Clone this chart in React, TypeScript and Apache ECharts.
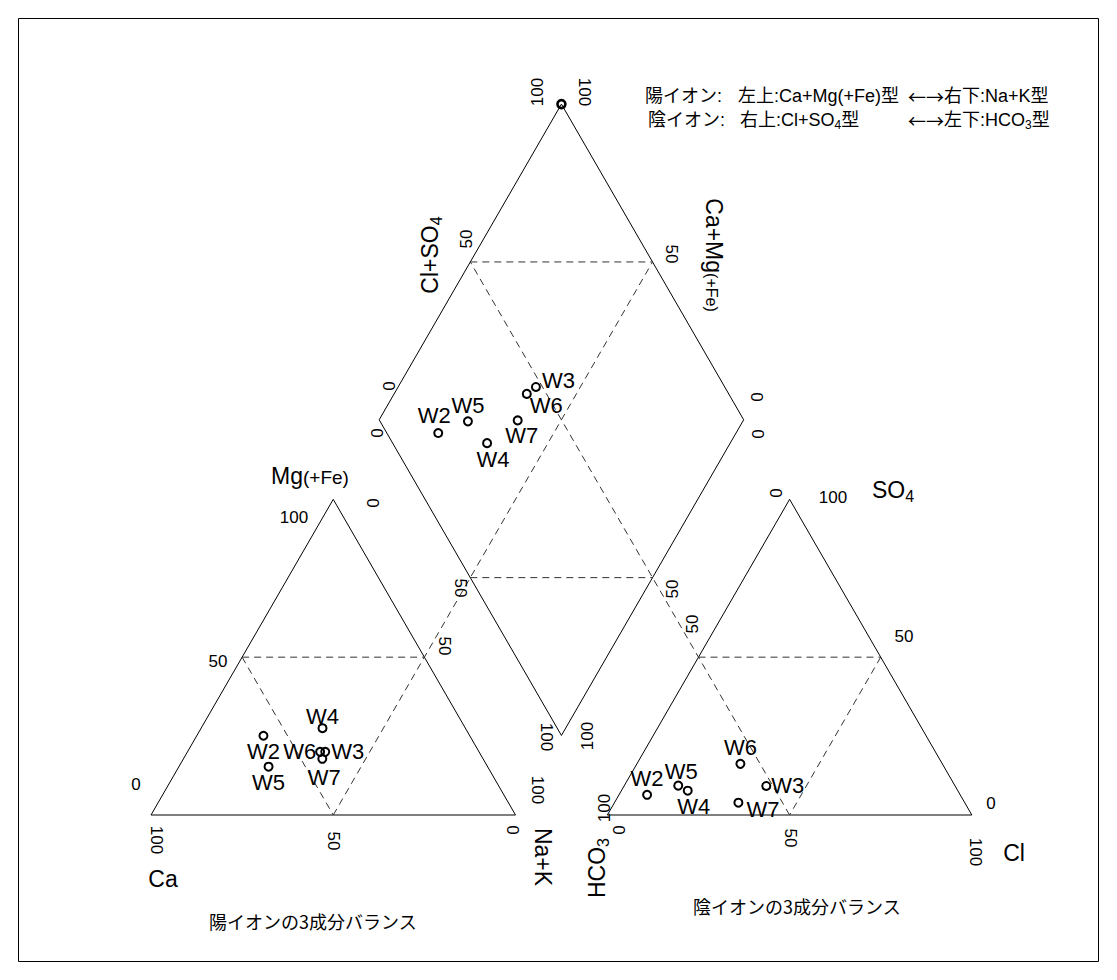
import React, { useEffect, useRef } from "react";
import * as echarts from "echarts";

// ---------- data ----------
const samples = ["W2", "W3", "W4", "W5", "W6", "W7"];
// cations (% meq)
const cationCa = [56.6, 42.2, 39.2, 60.1, 43.6, 44.1];
const cationMg = [25.1, 20.0, 27.5, 15.3, 20.0, 17.8];
const cationNaK = [18.3, 37.8, 33.3, 24.6, 36.4, 38.1];
// anions (% meq)
const anionHCO3 = [85.9, 51.8, 74.1, 75.9, 55.4, 62.1];
const anionSO4 = [6.4, 9.2, 7.7, 9.3, 16.2, 3.9];
const anionCl = [7.7, 39.0, 18.2, 14.8, 28.4, 34.0];
// marker drawn at the diamond apex (Na+K = 0, Cl+SO4 = 100)
const apexNaK = 0;
const apexClSO4 = 100;

// ---------- label placement (style, not data) ----------
type LP = { pos: string; d?: number; off?: number[] };
const cationLabel: Record<string, LP> = {
  W2: { pos: "bottom" }, W3: { pos: "right", d: 1 }, W4: { pos: "top", off: [0, 4] },
  W5: { pos: "bottom" }, W6: { pos: "left", d: -1 }, W7: { pos: "bottom", off: [2, 3] },
};
const anionLabel: Record<string, LP> = {
  W2: { pos: "top" }, W3: { pos: "right", d: 0 }, W4: { pos: "bottom", off: [6, 0] },
  W5: { pos: "top", off: [3, 2] }, W6: { pos: "top" }, W7: { pos: "right", d: 3, off: [0, 7] },
};
const diamondLabel: Record<string, LP> = {
  W2: { pos: "top", off: [-4, -2] }, W3: { pos: "right", d: 1, off: [0, -6] }, W4: { pos: "bottom", off: [6, 0] },
  W5: { pos: "top" }, W6: { pos: "right", d: -2, off: [0, 12] }, W7: { pos: "bottom", off: [4, -1] },
};

// ---------- geometry ----------
const W = 1117;
const HPX = 980;
const S = 3.645; // px per unit (triangle side = 100 units)
const ORX = 151;
const ORY = 815;
const GAP = 25.2;
const H3 = Math.sqrt(3) / 2;
const xMin = -ORX / S;
const xMax = xMin + W / S;
const yMin = -(HPX - ORY) / S;
const yMax = yMin + HPX / S;

const cat = (nak: number, mg: number) => [nak + mg / 2, mg * H3];
const ani = (cl: number, so4: number) => [100 + GAP + cl + so4 / 2, so4 * H3];
const B = [100 + GAP / 2, GAP * H3];
const dia = (nak: number, cs: number) => [
  B[0] - 50 * (1 - nak / 100) + 50 * (cs / 100),
  B[1] + 100 * H3 * (1 - nak / 100) + 100 * H3 * (cs / 100),
];

const FONT = "'Liberation Sans', Arial, 'Noto Sans CJK JP', sans-serif";
const JFONT = "'Liberation Sans', 'Noto Sans CJK JP', sans-serif";
const CFONT = "'Noto Sans CJK JP', 'Liberation Sans', sans-serif";
const NUM = 17;
const TTL = 23;
const LEG = 18;
const CW = -Math.PI / 2;
const CCW = Math.PI / 2;

let _ctx: CanvasRenderingContext2D | null = null;
function measure(t: string, fs: number, family: string) {
  if (!_ctx) _ctx = document.createElement("canvas").getContext("2d");
  if (!_ctx) return t.length * fs * 0.6;
  _ctx.font = `${fs}px ${family}`;
  return _ctx.measureText(t).width;
}

type Piece = { t: string; fs: number; f?: string; dy?: number };
function run(pieces: Piece[], x: number, y: number, rot = 0, align: "center" | "left" = "center") {
  const widths = pieces.map((p) => measure(p.t, p.fs, p.f ?? FONT));
  const total = widths.reduce((a, b) => a + b, 0);
  let cx = align === "center" ? -total / 2 : 0;
  const children = pieces.map((p, i) => {
    const el = {
      type: "text",
      x: cx,
      y: p.dy ?? 0,
      silent: true,
      z: 10,
      style: {
        text: p.t,
        fontSize: p.fs,
        fontFamily: p.f ?? FONT,
        fill: "#000",
        align: "left",
        verticalAlign: "middle",
        textAlign: "left",
        textVerticalAlign: "middle",
      },
    };
    cx += widths[i];
    return el;
  });
  return { type: "group", x, y, rotation: rot, silent: true, z: 10, children };
}
const txt = (t: string, x: number, y: number, rot = 0, fs = NUM, f = FONT) => run([{ t, fs, f }], x, y, rot);

export default function App() {
  const ref = useRef<HTMLDivElement>(null);
  useEffect(() => {
    document.body.style.margin = "0";
    if (!ref.current) return;
    const chart = echarts.init(ref.current, undefined, { renderer: "svg" });

    const solid = { color: "#000", width: 1, type: "solid" };
    const dashed = { color: "#333", width: 1, type: [7, 5] };
    const lineSeries = (pts: number[][], style: any) => ({
      type: "line",
      data: pts,
      symbol: "none",
      silent: true,
      lineStyle: style,
      z: 2,
    });

    const outlines = [
      [cat(0, 0), cat(100, 0), cat(0, 100), cat(0, 0)],
      [ani(0, 0), ani(100, 0), ani(0, 100), ani(0, 0)],
      [dia(100, 0), dia(0, 0), dia(0, 100), dia(100, 100), dia(100, 0)],
    ];
    const dashes = [
      [cat(0, 50), cat(50, 50)],
      [cat(0, 50), cat(50, 0)],
      [cat(50, 0), dia(50, 100)],
      [ani(0, 50), ani(50, 50)],
      [ani(50, 50), ani(50, 0)],
      [ani(50, 0), dia(0, 50)],
      [dia(50, 0), dia(100, 50)],
      [dia(0, 50), dia(50, 100)],
    ];

    const markerStyle = { color: "rgba(255,255,255,0)", borderColor: "#000", borderWidth: 2, opacity: 1 };
    const labelBase = { show: true, formatter: "{b}", fontSize: 22, color: "#000", fontFamily: FONT, distance: 0 };
    const scatter = (data: any[]) => ({
      type: "scatter",
      data,
      symbol: "circle",
      symbolSize: 8,
      itemStyle: markerStyle,
      label: labelBase,
      emphasis: { disabled: true },
      z: 5,
    });
    const lab = (lp: LP) => ({
      position: lp.pos,
      distance: lp.d ?? 0,
      offset: lp.off ?? [0, 0],
    });

    const cationData = samples.map((n, i) => ({
      name: n,
      value: cat(cationNaK[i], cationMg[i]),
      label: lab(cationLabel[n]),
    }));
    const anionData = samples.map((n, i) => ({
      name: n,
      value: ani(anionCl[i], anionSO4[i]),
      label: lab(anionLabel[n]),
    }));
    const diamondData = samples.map((n, i) => ({
      name: n,
      value: dia(cationNaK[i], anionCl[i] + anionSO4[i]),
      label: lab(diamondLabel[n]),
    }));

    const texts = [
      // cation triangle
      run([{ t: "Mg", fs: TTL }, { t: "(+Fe)", fs: 19, dy: 1.3 }], 310, 476),
      txt("100", 294, 517),
      txt("50", 218, 661),
      txt("0", 136, 784),
      txt("100", 156, 840, CW),
      txt("50", 333, 841, CW),
      txt("0", 512, 830, CW),
      txt("Ca", 163, 879, 0, TTL),
      txt("Na+K", 543, 857, CW, TTL),
      txt("0", 372, 503, CW),
      txt("50", 444, 646, CW),
      txt("100", 537, 790, CW),
      txt("陽イオンの3成分バランス", 313, 921, 0, 18, CFONT),
      // diamond
      txt("100", 537, 92, CCW),
      txt("100", 584, 92, CW),
      run([{ t: "Cl+SO", fs: TTL }, { t: "4", fs: 16, dy: 6 }], 430, 255, CCW),
      txt("50", 466, 239, CCW),
      run([{ t: "Ca+Mg", fs: TTL }, { t: "(+Fe)", fs: 16, dy: 2.5 }], 714, 255, CW),
      txt("50", 671, 254, CW),
      txt("0", 389, 386, CCW),
      txt("0", 377, 433, CCW),
      txt("0", 756, 397, CW),
      txt("0", 757, 434, CW),
      txt("50", 460, 588, CW),
      txt("100", 546, 737, CW),
      txt("100", 587, 736, CCW),
      txt("50", 672, 589, CCW),
      // anion triangle
      txt("0", 776, 493, CCW),
      txt("50", 692, 624, CCW),
      txt("100", 604, 808, CCW),
      txt("100", 833, 497),
      run([{ t: "SO", fs: TTL }, { t: "4", fs: 16, dy: 6 }], 893, 490),
      txt("50", 904, 636),
      txt("0", 991, 803),
      txt("0", 618, 830, CW),
      txt("50", 790, 838, CW),
      txt("100", 975, 852, CW),
      txt("Cl", 1014, 853, 0, TTL),
      run([{ t: "HCO", fs: TTL }, { t: "3", fs: 16, dy: 6 }], 597, 868, CCW),
      txt("陰イオンの3成分バランス", 797, 906, 0, 18, CFONT),
      // legend
      run([{ t: "陽イオン:", fs: LEG, f: JFONT }], 645, 96, 0, "left"),
      run([{ t: "左上:Ca+Mg(+Fe)型", fs: LEG, f: JFONT }], 738, 96, 0, "left"),
      run([{ t: "←→", fs: LEG, f: CFONT }, { t: "右下:Na+K型", fs: LEG, f: JFONT }], 908, 96, 0, "left"),
      run([{ t: "陰イオン:", fs: LEG, f: JFONT }], 648, 120, 0, "left"),
      run([{ t: "右上:Cl+SO", fs: LEG, f: JFONT }, { t: "4", fs: 12, f: JFONT, dy: 5 }, { t: "型", fs: LEG, f: JFONT }], 740, 120, 0, "left"),
      run([{ t: "←→", fs: LEG, f: CFONT }, { t: "左下:HCO", fs: LEG, f: JFONT }, { t: "3", fs: 12, f: JFONT, dy: 5 }, { t: "型", fs: LEG, f: JFONT }], 908, 120, 0, "left"),
    ];

    const option: any = {
      animation: false,
      grid: { left: 0, right: 0, top: 0, bottom: 0, containLabel: false },
      xAxis: { type: "value", min: xMin, max: xMax, show: false },
      yAxis: { type: "value", min: yMin, max: yMax, show: false },
      series: [
        ...outlines.map((p) => lineSeries(p, solid)),
        ...dashes.map((p) => lineSeries(p, dashed)),
        scatter(cationData),
        scatter(anionData),
        scatter(diamondData),
        {
          type: "scatter",
          data: [{ name: "", value: dia(apexNaK, apexClSO4) }],
          symbol: "circle",
          symbolSize: 8,
          itemStyle: { color: "rgba(255,255,255,0)", borderColor: "#000", borderWidth: 2.6, opacity: 1 },
          label: { show: false },
          z: 6,
        },
      ],
      graphic: {
        elements: [
          {
            type: "rect",
            shape: { x: 18.5, y: 18.5, width: 1080, height: 943 },
            style: { fill: "none", stroke: "#000", lineWidth: 1 },
            silent: true,
            z: 1,
          },
          ...texts,
        ],
      },
    };
    chart.setOption(option);
    return () => chart.dispose();
  }, []);
  return <div ref={ref} style={{ width: W, height: HPX, background: "#fff" }} />;
}
